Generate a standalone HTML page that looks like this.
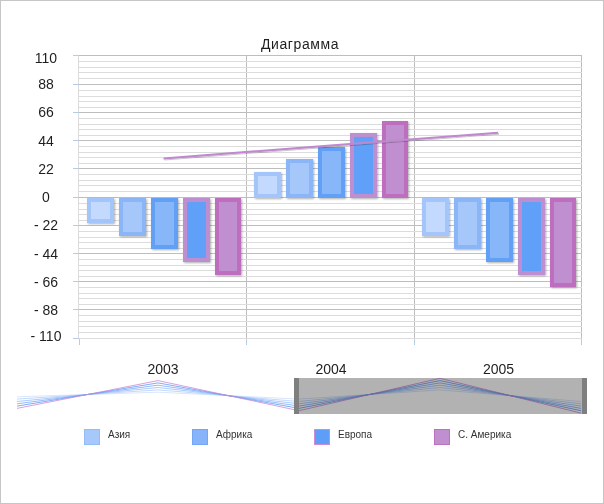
<!DOCTYPE html>
<html><head><meta charset="utf-8"><title>Диаграмма</title>
<style>
html,body{margin:0;padding:0;background:#fff;}
body{width:604px;height:504px;overflow:hidden;position:relative;font-family:"Liberation Sans",sans-serif;}
svg{position:absolute;left:0;top:0;display:block;}
text{font-family:"Liberation Sans",sans-serif;fill:#1e1e1e;}
.ax{font-size:14px;text-anchor:middle;}
.lg{font-size:10px;fill:#333;}
</style></head><body>
<svg width="604" height="504" viewBox="0 0 604 504">
<defs>
<filter id="sh" x="-20%" y="-20%" width="150%" height="150%"><feGaussianBlur in="SourceAlpha" stdDeviation="0.8"/><feOffset dx="1.2" dy="1.2"/><feComponentTransfer><feFuncA type="linear" slope="0.32"/></feComponentTransfer><feMerge><feMergeNode/><feMergeNode in="SourceGraphic"/></feMerge></filter>
<filter id="shl" x="-5%" y="-50%" width="110%" height="200%"><feGaussianBlur in="SourceAlpha" stdDeviation="0.7"/><feOffset dx="1" dy="1.2"/><feComponentTransfer><feFuncA type="linear" slope="0.22"/></feComponentTransfer><feMerge><feMergeNode/><feMergeNode in="SourceGraphic"/></feMerge></filter>
</defs>
<rect x="0.5" y="0.5" width="603" height="503" fill="#fff" stroke="#c6c6c6"/>
<g shape-rendering="crispEdges">
<rect x="246" y="55" width="1" height="284" fill="#bdbdbd"/>
<rect x="414" y="55" width="1" height="284" fill="#bdbdbd"/>
<rect x="581" y="55" width="1" height="284" fill="#bdbdbd"/>
<rect x="78" y="61" width="504" height="1" fill="#dcdcdc"/>
<rect x="78" y="67" width="504" height="1" fill="#dcdcdc"/>
<rect x="78" y="72" width="504" height="1" fill="#dcdcdc"/>
<rect x="78" y="78" width="504" height="1" fill="#dcdcdc"/>
<rect x="78" y="90" width="504" height="1" fill="#dcdcdc"/>
<rect x="78" y="96" width="504" height="1" fill="#dcdcdc"/>
<rect x="78" y="101" width="504" height="1" fill="#dcdcdc"/>
<rect x="78" y="107" width="504" height="1" fill="#dcdcdc"/>
<rect x="78" y="118" width="504" height="1" fill="#dcdcdc"/>
<rect x="78" y="124" width="504" height="1" fill="#dcdcdc"/>
<rect x="78" y="129" width="504" height="1" fill="#dcdcdc"/>
<rect x="78" y="135" width="504" height="1" fill="#dcdcdc"/>
<rect x="78" y="146" width="504" height="1" fill="#dcdcdc"/>
<rect x="78" y="152" width="504" height="1" fill="#dcdcdc"/>
<rect x="78" y="157" width="504" height="1" fill="#dcdcdc"/>
<rect x="78" y="163" width="504" height="1" fill="#dcdcdc"/>
<rect x="78" y="174" width="504" height="1" fill="#dcdcdc"/>
<rect x="78" y="180" width="504" height="1" fill="#dcdcdc"/>
<rect x="78" y="185" width="504" height="1" fill="#dcdcdc"/>
<rect x="78" y="191" width="504" height="1" fill="#dcdcdc"/>
<rect x="78" y="203" width="504" height="1" fill="#dcdcdc"/>
<rect x="78" y="209" width="504" height="1" fill="#dcdcdc"/>
<rect x="78" y="214" width="504" height="1" fill="#dcdcdc"/>
<rect x="78" y="220" width="504" height="1" fill="#dcdcdc"/>
<rect x="78" y="231" width="504" height="1" fill="#dcdcdc"/>
<rect x="78" y="237" width="504" height="1" fill="#dcdcdc"/>
<rect x="78" y="242" width="504" height="1" fill="#dcdcdc"/>
<rect x="78" y="248" width="504" height="1" fill="#dcdcdc"/>
<rect x="78" y="259" width="504" height="1" fill="#dcdcdc"/>
<rect x="78" y="265" width="504" height="1" fill="#dcdcdc"/>
<rect x="78" y="270" width="504" height="1" fill="#dcdcdc"/>
<rect x="78" y="276" width="504" height="1" fill="#dcdcdc"/>
<rect x="78" y="287" width="504" height="1" fill="#dcdcdc"/>
<rect x="78" y="293" width="504" height="1" fill="#dcdcdc"/>
<rect x="78" y="298" width="504" height="1" fill="#dcdcdc"/>
<rect x="78" y="304" width="504" height="1" fill="#dcdcdc"/>
<rect x="78" y="315" width="504" height="1" fill="#dcdcdc"/>
<rect x="78" y="321" width="504" height="1" fill="#dcdcdc"/>
<rect x="78" y="326" width="504" height="1" fill="#dcdcdc"/>
<rect x="78" y="332" width="504" height="1" fill="#dcdcdc"/>
<rect x="78" y="55" width="1" height="284" fill="#dcdcdc"/>
<rect x="78" y="55" width="504" height="1" fill="#bebebe"/>
<rect x="73" y="55" width="6" height="1" fill="#b7cde6"/>
<rect x="78" y="84" width="504" height="1" fill="#bebebe"/>
<rect x="73" y="84" width="6" height="1" fill="#b7cde6"/>
<rect x="78" y="112" width="504" height="1" fill="#bebebe"/>
<rect x="73" y="112" width="6" height="1" fill="#b7cde6"/>
<rect x="78" y="140" width="504" height="1" fill="#bebebe"/>
<rect x="73" y="140" width="6" height="1" fill="#b7cde6"/>
<rect x="78" y="168" width="504" height="1" fill="#bebebe"/>
<rect x="73" y="168" width="6" height="1" fill="#b7cde6"/>
<rect x="78" y="197" width="504" height="1" fill="#bebebe"/>
<rect x="73" y="197" width="6" height="1" fill="#b7cde6"/>
<rect x="78" y="225" width="504" height="1" fill="#bebebe"/>
<rect x="73" y="225" width="6" height="1" fill="#b7cde6"/>
<rect x="78" y="253" width="504" height="1" fill="#bebebe"/>
<rect x="73" y="253" width="6" height="1" fill="#b7cde6"/>
<rect x="78" y="281" width="504" height="1" fill="#bebebe"/>
<rect x="73" y="281" width="6" height="1" fill="#b7cde6"/>
<rect x="78" y="309" width="504" height="1" fill="#bebebe"/>
<rect x="73" y="309" width="6" height="1" fill="#b7cde6"/>
<rect x="78" y="338" width="504" height="1" fill="#dcdcdc"/>
<rect x="73" y="338" width="6" height="1" fill="#b7cde6"/>
<rect x="79" y="339" width="1" height="6" fill="#b7cde6"/>
<rect x="246" y="339" width="1" height="6" fill="#b7cde6"/>
<rect x="414" y="339" width="1" height="6" fill="#b7cde6"/>
<rect x="581" y="339" width="1" height="6" fill="#b7cde6"/>
</g>
<text class="ax" x="46" y="63">110</text>
<text class="ax" x="46" y="89">88</text>
<text class="ax" x="46" y="117">66</text>
<text class="ax" x="46" y="146">44</text>
<text class="ax" x="46" y="174">22</text>
<text class="ax" x="46" y="202">0</text>
<text class="ax" x="46" y="230">- 22</text>
<text class="ax" x="46" y="259">- 44</text>
<text class="ax" x="46" y="287">- 66</text>
<text class="ax" x="46" y="315">- 88</text>
<text class="ax" x="46" y="341">- 110</text>
<g filter="url(#sh)">
<rect x="87" y="198" width="27" height="25" fill="#a3c5fa"/><rect x="91" y="202" width="19" height="17" fill="#c3d9fd"/>
<rect x="119" y="198" width="27" height="38" fill="#8ab5f7"/><rect x="123" y="202" width="19" height="30" fill="#a6c7fa"/>
<rect x="151" y="198" width="27" height="51" fill="#62a0f6"/><rect x="155" y="202" width="19" height="43" fill="#88b7f9"/>
<rect x="183" y="198" width="27" height="64" fill="#be8fd0"/><rect x="187" y="202" width="19" height="56" fill="#60a0f8"/>
<rect x="215" y="198" width="26" height="77" fill="#bd6ebf"/><rect x="219" y="202" width="18" height="69" fill="#bf8fcf"/>
<rect x="254" y="172" width="27" height="26" fill="#a3c5fa"/><rect x="258" y="176" width="19" height="18" fill="#c3d9fd"/>
<rect x="286" y="159" width="27" height="39" fill="#8ab5f7"/><rect x="290" y="163" width="19" height="31" fill="#a6c7fa"/>
<rect x="318" y="147" width="27" height="51" fill="#62a0f6"/><rect x="322" y="151" width="19" height="43" fill="#88b7f9"/>
<rect x="350" y="133" width="27" height="65" fill="#be8fd0"/><rect x="354" y="137" width="19" height="57" fill="#60a0f8"/>
<rect x="382" y="121" width="26" height="77" fill="#bd6ebf"/><rect x="386" y="125" width="18" height="69" fill="#bf8fcf"/>
<rect x="422" y="198" width="27" height="38" fill="#a3c5fa"/><rect x="426" y="202" width="19" height="30" fill="#c3d9fd"/>
<rect x="454" y="198" width="27" height="51" fill="#8ab5f7"/><rect x="458" y="202" width="19" height="43" fill="#a6c7fa"/>
<rect x="486" y="198" width="27" height="64" fill="#62a0f6"/><rect x="490" y="202" width="19" height="56" fill="#88b7f9"/>
<rect x="518" y="198" width="27" height="77" fill="#be8fd0"/><rect x="522" y="202" width="19" height="69" fill="#60a0f8"/>
<rect x="550" y="198" width="26" height="89" fill="#bd6ebf"/><rect x="554" y="202" width="18" height="81" fill="#bf8fcf"/>
</g>
<path d="M163.5 158.4 L330.5 145.5 L498 132.8" fill="none" stroke="#bf88cf" stroke-width="2" filter="url(#shl)"/>
<text x="261" y="49" textLength="77.5" lengthAdjust="spacing" style="font-size:14px">Диаграмма</text>
<text class="ax" x="163" y="374">2003</text>
<text class="ax" x="331" y="374">2004</text>
<text class="ax" x="498.5" y="374">2005</text>
<path d="M17 396.8 L158 392.2 L299 399.1 L440 389.9 L581 401.5" fill="none" stroke="#cfe0fd" stroke-width="1" stroke-opacity="0.8"/>
<path d="M17 399.1 L158 389.9 L299 401.5 L440 387.5 L581 403.8" fill="none" stroke="#b3cefb" stroke-width="1" stroke-opacity="0.8"/>
<path d="M17 401.5 L158 387.5 L299 403.8 L440 385.2 L581 406.1" fill="none" stroke="#98bdf9" stroke-width="1" stroke-opacity="0.8"/>
<path d="M17 403.8 L158 385.2 L299 406.1 L440 382.9 L581 408.4" fill="none" stroke="#7aaaf7" stroke-width="1" stroke-opacity="0.8"/>
<path d="M17 406.1 L158 382.9 L299 408.4 L440 380.6 L581 410.7" fill="none" stroke="#5f9af5" stroke-width="1" stroke-opacity="0.8"/>
<path d="M17 408.4 L158 380.6 L299 410.7 L440 378.3 L581 413.1" fill="none" stroke="#cc8ad6" stroke-width="1" stroke-opacity="0.8"/>
<rect x="294" y="378" width="293" height="36" fill="#000" fill-opacity="0.3"/>
<rect x="294" y="378" width="5" height="36" fill="#7f7f7f"/>
<rect x="582" y="378" width="5" height="36" fill="#7f7f7f"/>
<rect x="84.5" y="429.5" width="15" height="15" fill="#a6c8fb" stroke="#92bbf8"/>
<text class="lg" x="108" y="438">Азия</text>
<rect x="192.5" y="429.5" width="15" height="15" fill="#86b3f9" stroke="#72a7f6"/>
<text class="lg" x="216" y="438">Африка</text>
<rect x="314.5" y="429.5" width="15" height="15" fill="#5e9ef8" stroke="#c88fd8"/>
<text class="lg" x="338" y="438">Европа</text>
<rect x="434.5" y="429.5" width="15" height="15" fill="#bf8fcf" stroke="#c070c0"/>
<text class="lg" x="458" y="438">С. Америка</text>
</svg></body></html>
